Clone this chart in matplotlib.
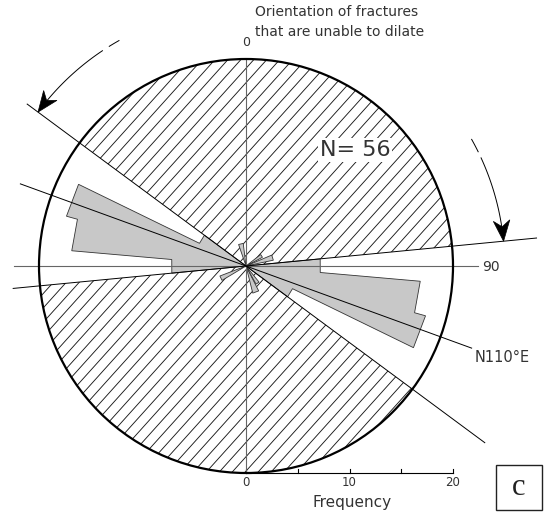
import numpy as np
import matplotlib.pyplot as plt
from matplotlib.patches import Wedge, Circle, Polygon, Rectangle
from matplotlib.collections import LineCollection

# rose diagram data (bearings in degrees clockwise from north)
main_edges = [84.5, 95.0, 105.5, 116.0, 126.5]      # bin edges of the main petals
main_freq = [7.2, 16.9, 18.0, 5.0]                  # frequency per bin
minor_start = [341, 153, 52, 67, 239, 141]
minor_end = [353, 166, 62, 78, 249, 151]
minor_freq = [2.2, 2.7, 1.8, 2.7, 2.7, 2.0]

n_total = 56
trend = 110                  # mean orientation N110E
open_from, open_to = 84.5, 126.5   # sector of fractures able to dilate
freq_ticks = [0, 5, 10, 15, 20]
freq_labels = ["0", "10", "20"]
R = 20                       # outer circle = 20 counts

S = 10.35                    # pixels per frequency unit
CX, CY = 246, 266            # centre of the rose in pixels
W, H = 551, 517


def px(x, y):
    return (x - CX) / S, (CY - y) / S


def pt(b, r):
    b = np.radians(b)
    return r * np.sin(b), r * np.cos(b)


def wedge(b1, b2, r, **kw):
    # bearings clockwise b1 -> b2
    return Wedge((0, 0), r, 90 - b2, 90 - b1, **kw)


fig = plt.figure(figsize=(W / 100, H / 100), dpi=100)
ax = fig.add_axes([0, 0, 1, 1])
ax.set_xlim(-CX / S, (W - CX) / S)
ax.set_ylim(-(H - CY) / S, CY / S)
ax.axis("off")

# hatched sectors (orientations that are unable to dilate)
ang = np.radians(48)
u = np.array([np.cos(ang), np.sin(ang)])
nrm = np.array([-np.sin(ang), np.cos(ang)])
segs = [[d * nrm - 30 * u, d * nrm + 30 * u] for d in np.arange(-30, 30, 0.93)]
for b1, b2 in [(open_to + 180, open_from + 360), (open_to, open_from + 180)]:
    clip = wedge(b1, b2, R, facecolor="none", edgecolor="none")
    ax.add_patch(clip)
    lc = LineCollection(segs, colors="#1a1a1a", linewidths=0.65)
    lc.set_clip_path(clip)
    ax.add_collection(lc)

# petals (bidirectional), stepped outline with straight outer edges
petal_kw = dict(closed=True, facecolor="#c8c8c8", edgecolor="#333333", linewidth=0.6, zorder=3)
for off in (0, 180):
    verts = [(0, 0)]
    for i, f in enumerate(main_freq):
        verts.append(pt(main_edges[i] + off, f))
        verts.append(pt(main_edges[i + 1] + off, f))
    ax.add_patch(Polygon(verts, **petal_kw))
for b1, b2, f in zip(minor_start, minor_end, minor_freq):
    ax.add_patch(Polygon([(0, 0), pt(b1, f), pt(b2, f)], **petal_kw))

# outer circle
ax.add_patch(Circle((0, 0), R, fill=False, edgecolor="black", linewidth=1.6, zorder=5))

# reference axes N-S and E-W
ax.plot([0, 0], [-R, R], color="#666666", lw=0.8, zorder=4)
ax.plot([-22.4, 22.4], [0, 0], color="#666666", lw=0.8, zorder=4)

# boundary lines and mean direction
for b, r1, r2 in [(open_to + 180, 26.3, 28.7), (open_from, 28.2, 22.6), (trend, 23.2, 23.2)]:
    x1, y1 = pt(b, r1)
    x2, y2 = pt(b + 180, r2)
    ax.plot([x1, x2], [y1, y2], color="black", lw=0.7, zorder=4)


# curved arrows
def arrow(b_dash, b_start, b_tip, r=25.0):
    sign = np.sign(b_tip - b_start)
    bb = np.linspace(b_dash[0], b_dash[1], 10)
    ax.plot(*pt(bb, r), color="black", lw=0.7)
    L, Wd, notch = 2.0, 0.8, 0.6
    tip = np.array(pt(b_tip, r))
    t = np.radians(b_tip)
    d = sign * np.array([np.cos(t), -np.sin(t)])
    n = np.array([-d[1], d[0]])
    back = tip - L * d
    nt = tip - (L - notch) * d
    b_end = b_tip - sign * np.degrees((L - notch) / r)
    bb = np.linspace(b_start, b_end, 60)
    ax.plot(*pt(bb, r), color="black", lw=0.7)
    ax.add_patch(Polygon([tip, back + Wd * n, nt, back - Wd * n],
                         closed=True, facecolor="black", edgecolor="black", lw=0.5))


arrow((330.6, 328.1), 326.3, open_to + 180)
arrow((60.7, 63.8), 65.3, open_from)

# frequency scale
ax.plot([0, R], [-R, -R], color="black", lw=0.8)
tick_len = 0.4
for t in freq_ticks:
    ax.plot([t, t], [-R, -R + tick_len], color="black", lw=0.8)
for t, lab in zip(freq_ticks[::2], freq_labels):
    ax.text(t, px(0, 483)[1], lab, ha="center", va="center", fontsize=8.5, color="#333333")
ax.text(*px(352, 502), "Frequency", ha="center", va="center", fontsize=11, color="#333333")

# labels
ax.text(*px(246.5, 43), "0", ha="center", va="center", fontsize=9, color="#333333")
ax.text(*px(255, 12), "Orientation of fractures", ha="left", va="center", fontsize=10, color="#333333")
ax.text(*px(255, 32), "that are unable to dilate", ha="left", va="center", fontsize=10, color="#333333")
ax.text(*px(355, 150), f"N= {n_total}", ha="center", va="center", fontsize=16, color="#333333",
        bbox=dict(facecolor="white", edgecolor="none", pad=1.5), zorder=6)
ax.text(*px(482, 267), "90", ha="left", va="center", fontsize=10, color="#333333")
ax.text(*px(475, 357), f"N{trend}°E", ha="left", va="center", fontsize=10.5, color="#333333")

# panel letter
x0, y0 = px(496, 510)
x1, y1 = px(541.7, 465)
ax.add_patch(Rectangle((x0, y0), x1 - x0, y1 - y0, fill=False, edgecolor="#222222", lw=1.0))
ax.text((x0 + x1) / 2, (y0 + y1) / 2, "c", ha="center", va="center", fontsize=22,
        family="Liberation Serif", color="#222222")

fig.savefig("out.png", dpi=100)
